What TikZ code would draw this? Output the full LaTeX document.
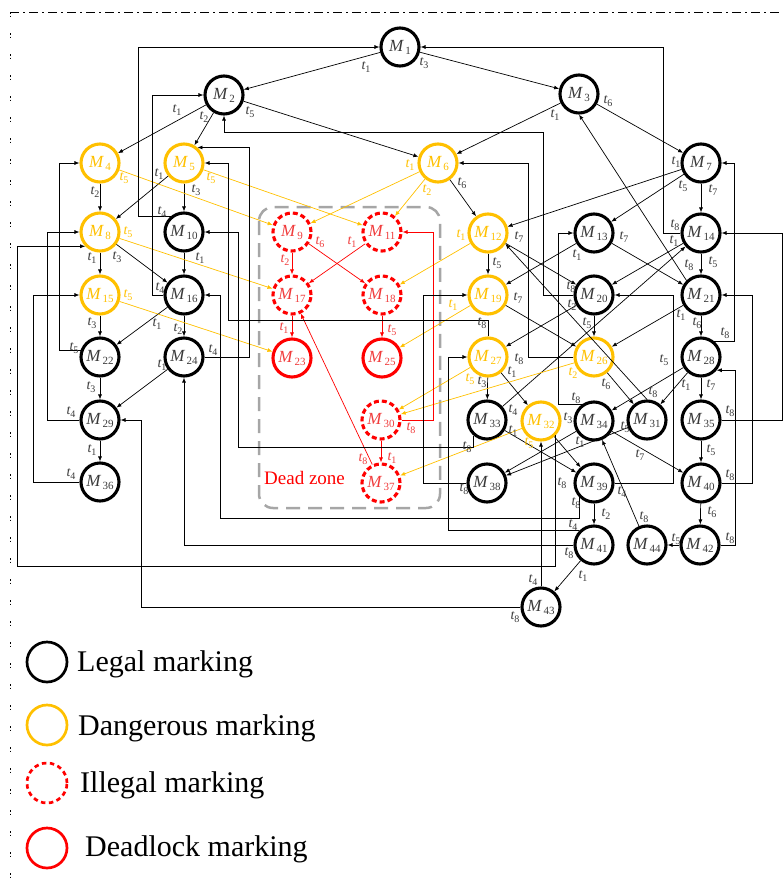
\documentclass[tikz,border=0pt]{standalone}
\usepackage{fontspec}
\setmainfont{Liberation Serif}
\usetikzlibrary{arrows.meta}
\definecolor{gold}{HTML}{FFC000}
\definecolor{redm}{HTML}{FF0000}
\definecolor{redt}{HTML}{F03C3C}
\definecolor{txt}{HTML}{3A3A3A}
\definecolor{dzgray}{HTML}{A6A6A6}
\newcounter{tlc}
\newcommand\mk[1]{\fontsize{17}{17}\selectfont\textit{M}\kern1.2pt\raisebox{-3pt}{\fontsize{11}{11}\selectfont #1}}
\newcommand\ttlab[4][txt]{\stepcounter{tlc}\node[tlab,text=#1] (tl\thetlc) at (#2,#3) {\textit{t}\kern-0.6pt\raisebox{-2.5pt}{\fontsize{10}{10}\selectfont #4}};}
\begin{document}
\begin{tikzpicture}[x=1pt,y=-1pt,
  mnode/.style={circle, minimum size=38pt, inner sep=0pt, line width=3.1pt},
  mlegal/.style={mnode, draw=black, text=txt},
  mdanger/.style={mnode, draw=gold, text=gold},
  millegal/.style={mnode, draw=redm, text=redt, dash pattern=on 5pt off 3pt},
  mdead/.style={mnode, draw=redm, text=redt},
  arr/.style={draw=black, line width=0.7pt, -{Latex[length=5pt,width=4pt]}},
  yarr/.style={arr, draw=gold},
  rarr/.style={arr, draw=redm},
  tlab/.style={inner sep=0pt, font=\fontsize{14}{14}\selectfont},
  legtext/.style={anchor=base west, inner sep=0pt, font=\fontsize{30}{30}\selectfont}]
\useasboundingbox (0,0) rectangle (783,878);

% frame
\draw[line width=0.6pt, dash pattern=on 9pt off 4pt on 2pt off 4pt] (10,12) -- (783,12);
\draw[line width=0.8pt, dash pattern=on 1.5pt off 2pt on 1.5pt off 16pt] (10,12) -- (10,878);

% dead zone
\draw[dzgray, line width=2.5pt, dash pattern=on 14pt off 8pt, rounded corners=14pt] (259,207) rectangle (440,508);
\node[anchor=base west, inner sep=0pt, text=redm, font=\fontsize{19}{19}\selectfont] (dz) at (264,484) {Dead zone};

% nodes
\node[mlegal]   (M1)  at (400,47)  {\mk{1}};
\node[mlegal]   (M2)  at (224,95)  {\mk{2}};
\node[mlegal]   (M3)  at (579,94)  {\mk{3}};
\node[mdanger]  (M4)  at (100,163) {\mk{4}};
\node[mdanger]  (M5)  at (184,163) {\mk{5}};
\node[mdanger]  (M6)  at (438,163) {\mk{6}};
\node[mlegal]   (M7)  at (701,163) {\mk{7}};
\node[mdanger]  (M8)  at (100,232) {\mk{8}};
\node[millegal] (M9)  at (292,232) {\mk{9}};
\node[mlegal]   (M10) at (184,232) {\mk{10}};
\node[millegal] (M11) at (382,232) {\mk{11}};
\node[mdanger]  (M12) at (488,233) {\mk{12}};
\node[mlegal]   (M13) at (594,233) {\mk{13}};
\node[mlegal]   (M14) at (701,233) {\mk{14}};
\node[mdanger]  (M15) at (100,295) {\mk{15}};
\node[mlegal]   (M16) at (184,295) {\mk{16}};
\node[millegal] (M17) at (292,295) {\mk{17}};
\node[millegal] (M18) at (382,295) {\mk{18}};
\node[mdanger]  (M19) at (488,295) {\mk{19}};
\node[mlegal]   (M20) at (594,295) {\mk{20}};
\node[mlegal]   (M21) at (701,295) {\mk{21}};
\node[mlegal]   (M22) at (100,357) {\mk{22}};
\node[mdead]    (M23) at (292,358) {\mk{23}};
\node[mlegal]   (M24) at (184,357) {\mk{24}};
\node[mdead]    (M25) at (382,358) {\mk{25}};
\node[mdanger]  (M26) at (594,357) {\mk{26}};
\node[mdanger]  (M27) at (488,357) {\mk{27}};
\node[mlegal]   (M28) at (701,357) {\mk{28}};
\node[mlegal]   (M29) at (100,420) {\mk{29}};
\node[millegal] (M30) at (381,420) {\mk{30}};
\node[mlegal]   (M31) at (647,420) {\mk{31}};
\node[mdanger]  (M32) at (541,421) {\mk{32}};
\node[mlegal]   (M33) at (487,420) {\mk{33}};
\node[mlegal]   (M34) at (594,421) {\mk{34}};
\node[mlegal]   (M35) at (701,420) {\mk{35}};
\node[mlegal]   (M36) at (100,482) {\mk{36}};
\node[millegal] (M37) at (381,483) {\mk{37}};
\node[mlegal]   (M38) at (487,483) {\mk{38}};
\node[mlegal]   (M39) at (594,483) {\mk{39}};
\node[mlegal]   (M40) at (701,483) {\mk{40}};
\node[mlegal]   (M41) at (594,545) {\mk{41}};
\node[mlegal]   (M42) at (700,545) {\mk{42}};
\node[mlegal]   (M43) at (541,607) {\mk{43}};
\node[mlegal]   (M44) at (647,545) {\mk{44}};

% route x positions
\foreach \xx in {17,33,47,59,138,141,152,220,228,238,249,423,433,448,528,543,555,558,580,663,673,734,735,752,782}
  \coordinate (x\xx) at (\xx,0);

% straight black edges
\foreach \a/\b in {M1/M2,M1/M3,M2/M4,M2/M5,M2/M6,M3/M6,M3/M7,M4/M8,M5/M8,M5/M10,M6/M12,M7/M12,M7/M13,M7/M14,
  M8/M15,M8/M16,M10/M16,M12/M19,M12/M20,M13/M19,M13/M21,M14/M20,M14/M21,M15/M22,M16/M22,M16/M24,
  M19/M26,M20/M26,M20/M27,M21/M26,M21/M28,M22/M29,M24/M29,M29/M36,M26/M31,M27/M33,M27/M32,
  M28/M34,M28/M31,M28/M35,M31/M38,M32/M39,M33/M14,M33/M39,M34/M38,M34/M40,M35/M40,
  M39/M41,M40/M42,M41/M43,M42/M44,M44/M34}
  \draw[arr] (\a) -- (\b);
\draw[arr] (M21.135) -- (M3.south);
\draw[arr] (M31.north) -- (M12.-32);

% yellow edges
\foreach \a/\b in {M4/M9,M5/M11,M6/M9,M6/M11,M8/M17,M15/M23,M12/M18,M19/M25,M27/M30,M26/M30,M32/M37}
  \draw[yarr] (\a) -- (\b);

% red edges
\foreach \a/\b in {M9/M17,M9/M18,M11/M17,M17/M23,M18/M25,M30/M37,M37/M17}
  \draw[rarr] (\a) -- (\b);
\draw[rarr] (M30.east) -- (M30.east -| x433) |- (M11.east);

% orthogonal black edges
\draw[arr] (M14.west) -- (M14.west -| x663) |- (M1.east);
\draw[arr] (M10.131) -- (M10.131 -| x138) |- (M1.west);
\draw[arr] (M16.west) -- (M16.west -| x152) |- (M2.west);
\draw[arr] (M20.west) -| (543,132) -| (M2.south);
\draw[arr] (M26.west) -- (M26.west -| x528) |- (M6.east);
\draw[arr] (M27.north) |- (228,320) |- (M5.east);
\draw[arr] (M24.east) -- (M24.east -| x249) |- (M5.49);
\draw[arr] (M33.229) |- (238,447) |- (M10.east);
\draw[arr] (M39.224) |- (220,518) |- (M16.east);
\draw[arr] (M22.160) -- (M22.160 -| x59) |- (M4.west);
\draw[arr] (M29.west) -- (M29.west -| x47) |- (M8.west);
\draw[arr] (M36.west) -- (M36.west -| x33) |- (M15.west);
\draw[arr] (M32.316) |- (17,566) |- (M8.224);
\draw[arr] (M43.west) -| (M29.east -| x141) -- (M29.east);
\draw[arr] (M43.north) -- (M32.south);
\draw[arr] (M41.west) -| (M24.south);
\draw[arr] (M41.136) -- (M41.136 -| x448) |- (M27.west);
\draw[arr] (M38.west) -- (M38.west -| x423) |- (M19.west);
\draw[arr] (M34.127) -- (M34.127 -| x558) |- (M13.west);
\draw[arr] (M39.east) -- (M39.east -| x673) |- (M20.east);
\draw[arr] (M40.east) -- (M40.east -| x752) |- (M21.east);
\draw[arr] (M28.49) -- (M28.49 -| x734) |- (M7.east);
\draw[arr] (M42.east) -- (M42.east -| x735) |- (M28.320);
\draw[arr] (M35.east) -- (M35.east -| x782) |- (M14.east);

% transition labels (black)
\ttlab{366}{67}{1}  \ttlab{424}{63}{3}
\ttlab{177}{110}{1} \ttlab{204}{117}{2} \ttlab{250}{112}{5}
\ttlab{555}{115}{1} \ttlab{608}{101}{6}
\ttlab{95}{192}{2}
\ttlab{159}{174}{1} \ttlab{196}{190}{3}
\ttlab{462}{183}{6}
\ttlab{676}{162}{1} \ttlab{683}{186}{5} \ttlab{713}{190}{7}
\ttlab{92}{258}{1} \ttlab{117}{257}{3}
\ttlab{162}{212}{4} \ttlab{200}{258}{1}
\ttlab{519}{237}{7} \ttlab{497}{263}{5}
\ttlab{577}{255}{1} \ttlab{624}{237}{7}
\ttlab{675}{225}{8} \ttlab{674}{241}{1} \ttlab{713}{262}{5}
\ttlab{92}{323}{3}
\ttlab{160}{288}{4} \ttlab{157}{324}{1} \ttlab{178}{329}{2}
\ttlab{518}{298}{7}
\ttlab{571}{287}{8} \ttlab{572}{305}{2} \ttlab{587}{323}{5}
\ttlab{689}{265}{8} \ttlab{681}{315}{1} \ttlab{697}{323}{6}
\ttlab{74}{348}{5} \ttlab{91}{387}{3}
\ttlab{213}{350}{4} \ttlab{162}{365}{1}
\ttlab{482}{323}{8} \ttlab{519}{359}{8} \ttlab{482}{382}{3} \ttlab{512}{372}{1}
\ttlab{606}{384}{6}
\ttlab{725}{333}{8} \ttlab{664}{360}{5} \ttlab{686}{385}{1} \ttlab{711}{385}{7}
\ttlab{71}{412}{4} \ttlab{92}{450}{1}
\ttlab{71}{474}{4}
\ttlab{653}{392}{8} \ttlab{625}{427}{5}
\ttlab{513}{410}{4} \ttlab{513}{431}{1} \ttlab{467}{447}{8}
\ttlab{568}{418}{3}
\ttlab{576}{398}{8} \ttlab{580}{442}{1} \ttlab{640}{455}{7}
\ttlab{730}{411}{8} \ttlab{711}{450}{5}
\ttlab{464}{489}{8}
\ttlab{562}{483}{8} \ttlab{576}{503}{8} \ttlab{606}{514}{2}
\ttlab{730}{475}{8} \ttlab{712}{512}{6}
\ttlab{573}{525}{4} \ttlab{569}{553}{8} \ttlab{583}{576}{1}
\ttlab{676}{539}{5} \ttlab{730}{538}{8}
\ttlab{644}{517}{8} \ttlab{622}{492}{4}
\ttlab{533}{580}{4} \ttlab{515}{617}{8}

% yellow labels
\ttlab[gold]{124}{178}{5} \ttlab[gold]{211}{178}{5}
\ttlab[gold]{410}{165}{1} \ttlab[gold]{427}{190}{2}
\ttlab[gold]{128}{232}{5} \ttlab[gold]{128}{295}{5}
\ttlab[gold]{461}{235}{1} \ttlab[gold]{453}{305}{1}
\ttlab[gold]{470}{379}{5} \ttlab[gold]{573}{373}{2}
\ttlab[gold]{529}{443}{5}

% red labels
\ttlab[redt]{320}{242}{6} \ttlab[redt]{285}{260}{2}
\ttlab[redt]{352}{242}{1}
\ttlab[redt]{284}{328}{1} \ttlab[redt]{392}{330}{5}
\ttlab[redt]{411}{428}{8}
\ttlab[redt]{363}{459}{8} \ttlab[redt]{392}{458}{1}

% legend
\node[mlegal, minimum size=40pt, line width=2.7pt] (L1) at (47,662) {};
\node[legtext] (L1t) at (77,671) {Legal marking};
\node[mdanger, minimum size=40pt, line width=2.7pt] (L2) at (47,725) {};
\node[legtext] (L2t) at (78,735) {Dangerous marking};
\node[millegal, minimum size=40pt, line width=2.7pt, dash pattern=on 4.5pt off 3.5pt] (L3) at (47,783) {};
\node[legtext] (L3t) at (80,792) {Illegal marking};
\node[mdead, minimum size=40pt, line width=2.7pt] (L4) at (47,848) {};
\node[legtext] (L4t) at (85,856) {Deadlock marking};
\end{tikzpicture}
\end{document}
